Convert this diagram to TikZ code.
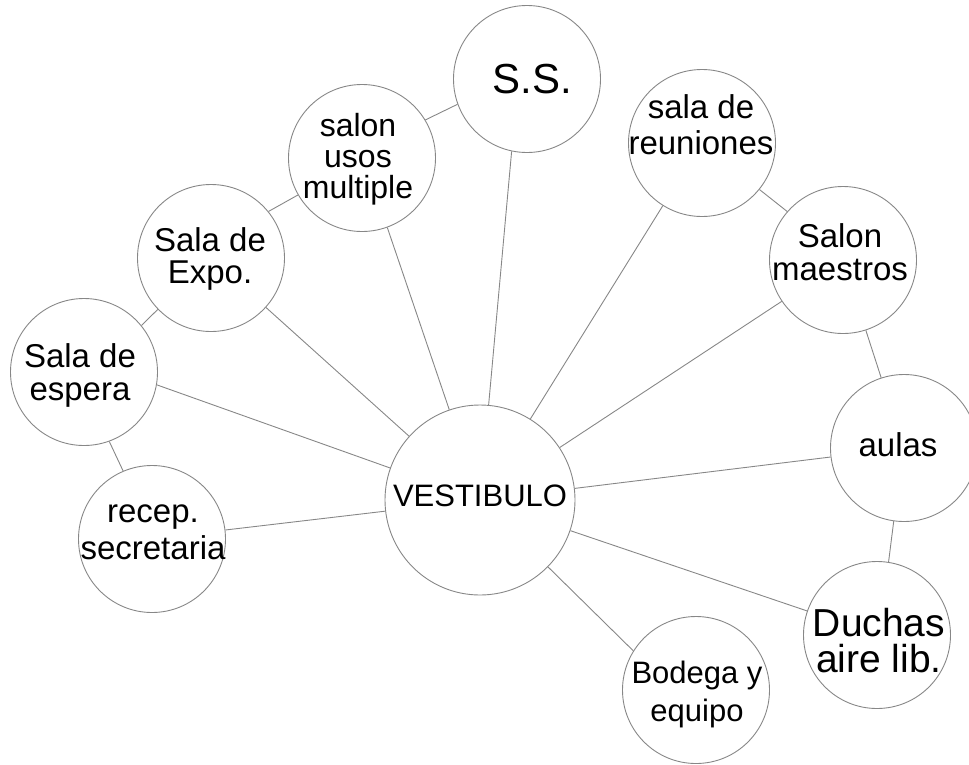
\documentclass[tikz,border=0pt]{standalone}
\usepackage{fontspec}
\setmainfont{Liberation Sans}
\definecolor{linegray}{RGB}{135,135,135}
\begin{document}
\begin{tikzpicture}[x=1pt,y=-1pt,
  room/.style={circle,draw=linegray,line width=0.9pt,minimum size=147pt,inner sep=0pt},
  hub/.style={room,minimum size=190pt},
  link/.style={draw=linegray,line width=0.9pt},
  lbl/.style={align=center,inner sep=0pt,text depth=0pt,font=\fontsize{33}{31}\selectfont}]
\useasboundingbox (0,0) rectangle (969,764);
% circles
\node[hub]  (ves) at (480,500) {};
\node[room] (ss)  at (527,79)  {};
\node[room] (sal) at (362,158) {};
\node[room] (exp) at (211,258) {};
\node[room] (esp) at (84,372)  {};
\node[room] (rec) at (152,539) {};
\node[room] (reu) at (702,143) {};
\node[room] (mae) at (843,260) {};
\node[room] (aul) at (904,448) {};
\node[room] (duc) at (877,635) {};
\node[room] (bod) at (696,690) {};
% texts
\node[lbl,font=\fontsize{31}{31}\selectfont] (tves) at (480,496) {VESTIBULO};
\node[lbl,font=\fontsize{42}{42}\selectfont] (tss) at (532,79) {S.S.};
\node[lbl,font=\fontsize{32}{31}\selectfont] (tsal) at (358,156) {salon\\usos\\multiple};
\node[lbl,font=\fontsize{33}{32}\selectfont] (texp) at (210,256) {Sala de\\Expo.};
\node[lbl,font=\fontsize{33}{33}\selectfont] (tesp) at (80,372) {Sala de\\espera};
\node[lbl,font=\fontsize{33}{37}\selectfont] (trec) at (153,532) {recep.\\secretaria};
\node[lbl,font=\fontsize{33}{36}\selectfont] (treu) at (701,125) {sala de\\reuniones};
\node[lbl,font=\fontsize{33}{33}\selectfont] (tmae) at (840,252) {Salon\\maestros};
\node[lbl,font=\fontsize{33}{33}\selectfont] (taul) at (898,445) {aulas};
\node[lbl,font=\fontsize{39}{36}\selectfont] (tduc) at (879,640) {Duchas\\aire lib.};
\node[lbl,font=\fontsize{31}{38}\selectfont] (tbod) at (697,691) {Bodega y\\equipo};
% spokes
\draw[link] (ves) -- (ss.258);
\draw[link] (ves) -- (sal.290);
\draw[link] (ves) -- (exp);
\draw[link] (ves) -- (esp.-10);
\draw[link] (ves) -- (rec.7);
\draw[link] (ves) -- (reu.238);
\draw[link] (ves) -- (mae.214);
\draw[link] (ves) -- (aul.187);
\draw[link] (ves) -- (duc.161);
\draw[link] (ves) -- (bod.148);
% chain links
\draw[link] (sal.31) -- (ss.200);
\draw[link] (exp.39) -- (sal.210);
\draw[link] (esp.39) -- (exp.224);
\draw[link] (esp.290) -- (rec.113);
\draw[link] (reu.321) -- (mae.139);
\draw[link] (mae.288) -- (aul.108);
\draw[link] (aul.262) -- (duc.81);
\end{tikzpicture}
\end{document}
